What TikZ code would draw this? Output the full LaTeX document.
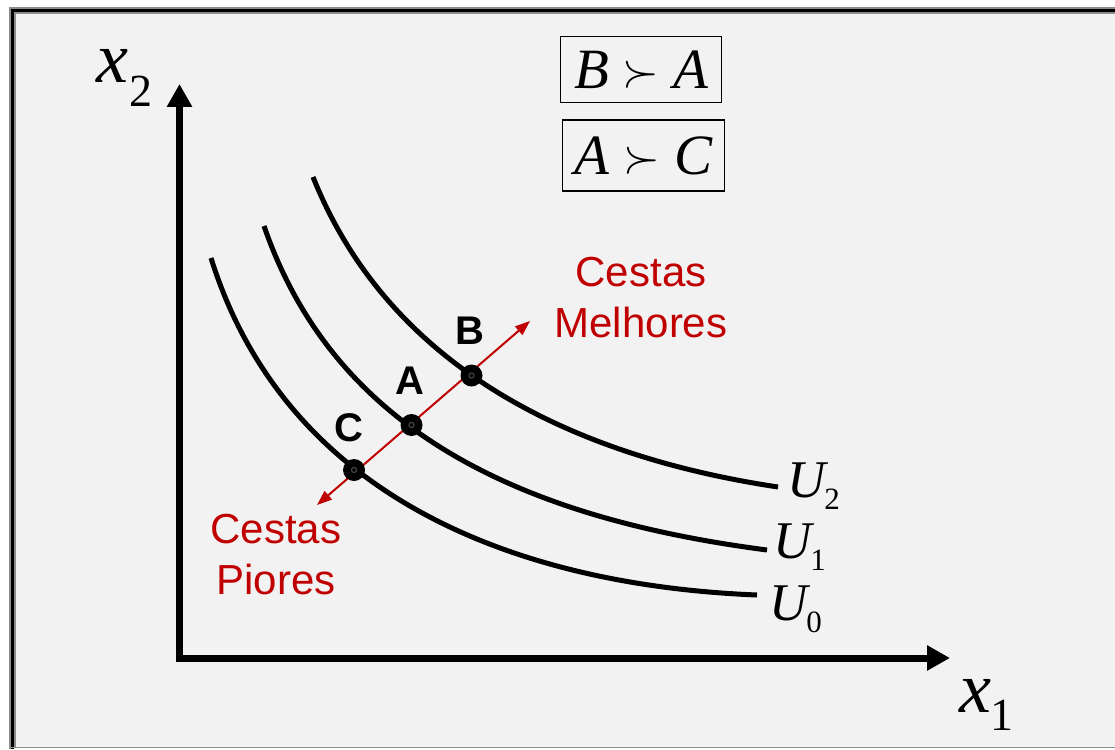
\documentclass[tikz,border=0pt]{standalone}
\usepackage{graphicx}
\usepackage{fontspec}
\setmainfont{Liberation Serif}
\newfontfamily\arialfont{Liberation Sans}
\usetikzlibrary{arrows.meta}
\definecolor{bg}{HTML}{F2F2F2}
\definecolor{dred}{HTML}{C00000}
\definecolor{framegray}{HTML}{8C8C8C}
\newcommand{\bigsucc}{\raisebox{2pt}{\scalebox{4.7}{\normalsize$\succ$}}}
\begin{document}
\begin{tikzpicture}[x=1pt,y=-1pt,
  axis/.style={line width=7pt, -{Triangle[length=23pt,width=24pt]}},
  icurve/.style={line width=5pt, line cap=butt},
  dot/.style={circle, fill=black, minimum size=22pt, inner sep=0pt},
  ptlabel/.style={font=\arialfont\bfseries\fontsize{40}{40}\selectfont, inner sep=0pt},
  redtext/.style={text=dred, align=center, font=\arialfont\fontsize{42}{51}\selectfont, inner sep=0pt},
  relbox/.style={draw, line width=1.5pt, inner sep=0pt, font=\fontsize{57}{57}\selectfont\itshape},
  redarrow/.style={draw=dred, line width=2pt, {Triangle[length=15pt,width=11pt]}-{Triangle[length=15pt,width=11pt]}}
]
\useasboundingbox (0,0) rectangle (1115,749);
% background and frame
\fill[white] (0,0) rectangle (1115,749);
\fill[bg] (10,8) rectangle (1115,748);
\draw[framegray, line width=1.6pt] (10.2,749) -- (10.2,8.0) -- (1115,8.0);
\draw[black, line width=3.2pt] (12.6,749) -- (12.6,10.4) -- (1115,10.4);
\draw[framegray, line width=1.6pt] (15.0,747) -- (15.0,12.8) -- (1115,12.8);
\draw[framegray, line width=1.2pt] (10,747.6) -- (1115,747.6);

% axes
\coordinate (o1) at (179.5,662);
\coordinate (o2) at (176,658);
\coordinate (ytip) at (179.5,84);
\coordinate (xtip) at (950,658);
\draw[axis] (o1) -- (ytip);
\draw[axis] (o2) -- (xtip);

% axis labels
\node[anchor=base west, inner sep=0pt] (x2) at (96,83)
  {{\fontsize{72}{72}\selectfont\itshape x}\kern1pt\raisebox{-24pt}{\fontsize{46}{46}\selectfont 2}};
\node[anchor=base west, inner sep=0pt] (x1) at (959,712)
  {{\fontsize{72}{72}\selectfont\itshape x}\kern-1pt\raisebox{-18pt}{\fontsize{46}{46}\selectfont 1}};

% indifference curves
\coordinate (s0) at (211,258);  \coordinate (e0) at (757,595);
\coordinate (s1) at (264,226);  \coordinate (e1) at (767,550);
\coordinate (s2) at (313,177);  \coordinate (e2) at (778,487);
\draw[icurve] (s0) .. controls (286,498) and (517,585.4) .. (e0);
\draw[icurve] (s1) .. controls (334,429) and (517,517.5) .. (e1);
\draw[icurve] (s2) .. controls (383,352) and (548,452.5) .. (e2);

% curve labels
\node[anchor=base west, inner sep=0pt] (u2) at (787,497)
  {{\fontsize{53}{53}\selectfont\itshape U}\kern-1pt\raisebox{-12pt}{\fontsize{31}{31}\selectfont 2}};
\node[anchor=base west, inner sep=0pt] (u1) at (773,558)
  {{\fontsize{53}{53}\selectfont\itshape U}\kern-1pt\raisebox{-12pt}{\fontsize{31}{31}\selectfont 1}};
\node[anchor=base west, inner sep=0pt] (u0) at (769,620)
  {{\fontsize{53}{53}\selectfont\itshape U}\kern-1pt\raisebox{-12pt}{\fontsize{31}{31}\selectfont 0}};

% red direction arrow
\coordinate (lo) at (317,505);
\coordinate (hi) at (530,321);
\draw[redarrow] (lo) -- (hi);

% bundles
\node[dot] (C) at (354,470) {};
\node[dot] (A) at (411.5,425) {};
\node[dot] (B) at (471.5,375.5) {};
\foreach \p in {A,B,C} \draw[gray!55!black, line width=1.1pt] (\p.center) circle (2.6pt);

\node[ptlabel] (lB) at (470,331) {B};
\node[ptlabel] (lA) at (410,381) {A};
\node[ptlabel] (lC) at (349,428) {C};

\node[redtext] (mel) at (641,298) {Cestas\\Melhores};
\node[redtext] (pio) at (276,555) {Cestas\\Piores};

% relation boxes
\node[relbox, minimum width=161pt, minimum height=66pt] (r1) at (641.2,69.7) {B\hspace{14pt}\bigsucc\hspace{14pt}A};
\node[relbox, minimum width=161.6pt, minimum height=71pt] (r2) at (643.5,155.5) {A\hspace{14pt}\bigsucc\hspace{14pt}C};
\end{tikzpicture}
\end{document}
